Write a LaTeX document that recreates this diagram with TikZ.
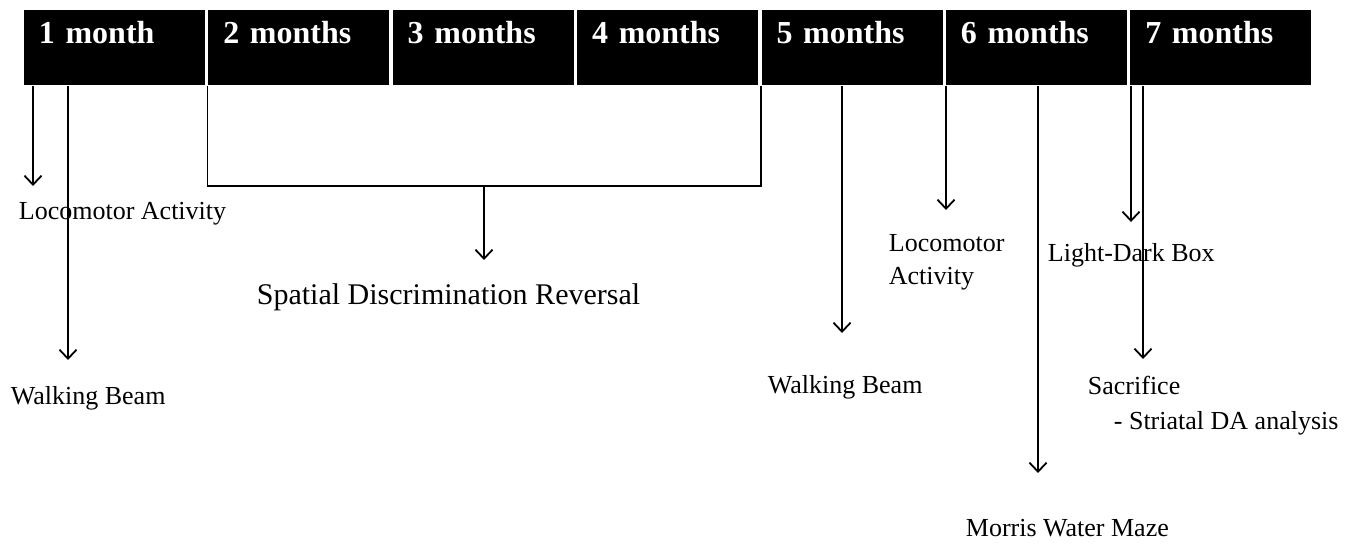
\documentclass[tikz,border=0pt]{standalone}
\usepackage{fontspec}
\setmainfont{Liberation Serif}
\usetikzlibrary{arrows.meta}

\begin{document}
\begin{tikzpicture}[
            x=1pt, y=-1pt,
            month/.style={fill=black, text=white, anchor=north west,
                inner xsep=15pt, inner ysep=0pt, text width=151pt, align=left,
                text height=34pt, text depth=41pt,
                font=\fontsize{32}{38}\selectfont\bfseries},
            test/.style={anchor=base west, inner sep=0pt, align=left,
                font=\fontsize{26}{33}\selectfont},
            every path/.style={line width=1.8pt},
            >={Straight Barb[length=9pt,width=17pt]}
            ]
            \useasboundingbox (0,0) rectangle (1359,547);
            % timeline
            \foreach \i/\txt in {1/1 month, 2/2 months, 3/3 months, 4/4 months,
                                 5/5 months, 6/6 months, 7/7 months}
                \node[month] (m\i) at ({23+184.4*(\i-1)}, 9) {\txt};

            % tests (base = last line)
            \node[test] (loco1) at (18,219) {Locomotor Activity};
            \node[test] (walk1) at (10,404) {Walking Beam};
            \node[test, font=\fontsize{30}{36}\selectfont] (sdr) at (256,304) {Spatial Discrimination Reversal};
            \node[test] (walk2) at (767,393) {Walking Beam};
            \node[test] (loco2) at (888,284) {Locomotor\\Activity};
            \node[test] (mwm) at (965,536) {Morris Water Maze};
            \node[test] (ldb) at (1047,261) {Light-Dark Box};
            \node[test, font=\fontsize{26}{35}\selectfont] (sac) at (1087,429) {Sacrifice\\\hspace*{26pt}- Striatal DA analysis};

            % arrow ends
            \coordinate (a1) at (33,186);
            \coordinate (a2) at (68,360);
            \coordinate (brk) at (484,186);
            \coordinate (a3) at (484,260);
            \coordinate (a5) at (842,333);
            \coordinate (a6) at (946,210);
            \coordinate (a7) at (1038,473);
            \coordinate (a8) at (1131,222);
            \coordinate (a9) at (1143,359);

            \draw[->] (m1.south -| a1) -- (a1);
            \draw[->] (m1.south -| a2) -- (a2);
            \draw (m2.south west) -- (m2.south west |- brk) -| (m5.south west);
            \draw[->] (brk) -- (a3);
            \draw[->] (m5.south -| a5) -- (a5);
            \draw[->] (m6.south -| a6) -- (a6);
            \draw[->] (m6.south -| a7) -- (a7);
            \draw[->] (m7.south -| a8) -- (a8);
            \draw[->] (m7.south -| a9) -- (a9);
        \end{tikzpicture}
\end{document}
